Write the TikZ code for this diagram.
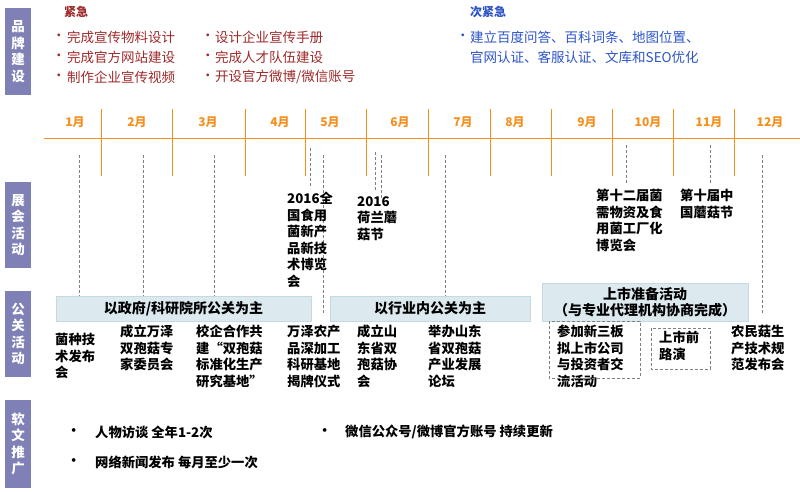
\documentclass[tikz,border=0pt]{standalone}
\usepackage{fontspec}
\setmainfont{Noto Sans CJK SC}
\begin{document}
\begin{tikzpicture}[x=1pt,y=-1pt,
 side/.style={fill=side,text=white,font=\bfseries\fontsize{13.5}{16.5}\selectfont,align=center,inner sep=0pt,minimum width=26pt},
 red/.style={text=redt,font=\fontsize{13.5}{15}\selectfont,anchor=west,inner sep=0pt},
 blu/.style={text=blut,font=\fontsize{13.5}{15}\selectfont,anchor=west,inner sep=0pt},
 mon/.style={text=orng,font=\bfseries\fontsize{12}{13}\selectfont,inner sep=0pt},
 sep/.style={draw=orng,line width=1pt},
 gd/.style={draw=gray,densely dashed,line width=0.6pt},
 band/.style={fill=bandf,draw=bandd,line width=0.8pt,font=\bfseries\fontsize{14}{16.5}\selectfont,align=center,inner sep=0pt},
 txt/.style={font=\bfseries\fontsize{13.3}{16.5}\selectfont,align=left,anchor=north west,inner sep=0pt},
 dbox/.style={draw=gray,densely dashed,line width=0.6pt}
]
\definecolor{side}{HTML}{7F80B6}
\definecolor{redt}{HTML}{9E2A2B}
\definecolor{blut}{HTML}{2F55C8}
\definecolor{orng}{HTML}{F5901E}
\definecolor{bandf}{HTML}{DCE9EF}
\definecolor{bandd}{HTML}{C3DAE3}
\useasboundingbox (0,0) rectangle (800,491);
\fill[white] (0,0) rectangle (800,491);
% side labels
\node[side,minimum height=87pt] (s1) at (18,51.5) {品\\牌\\建\\设};
\node[side,minimum height=86pt] (s2) at (18,225) {展\\会\\活\\动};
\node[side,minimum height=86pt] (s3) at (18,334) {公\\关\\活\\动};
\node[side,minimum height=88pt] (s4) at (18,444) {软\\文\\推\\广};
% header
\node[red,font=\bfseries\fontsize{12}{13}\selectfont] (h1) at (64,12) {紧急};
\foreach \t [count=\i] in {完成宣传物料设计,完成官方网站建设,制作企业宣传视频}{
 \node[red] (a\i) at (67,17+20*\i) {\t};
 \node[red] (ab\i) at (52,17+20*\i) {•};}
\foreach \t [count=\i] in {设计企业宣传手册,完成人才队伍建设,开设官方微博/微信账号}{
 \node[red] (b\i) at (215,17+20*\i) {\t};
 \node[red] (bb\i) at (201,17+20*\i) {•};}
\node[blu,font=\bfseries\fontsize{12}{13}\selectfont] (h2) at (470,12) {次紧急};
\node[blu] (c0) at (456,37) {•};
\node[blu] (c1) at (470,37) {建立百度问答、百科词条、地图位置、};
\node[blu] (c2) at (470,57) {官网认证、客服认证、文库和SEO优化};
% timeline
\coordinate (tl) at (44,138); \coordinate (tr) at (800,138);
\draw[sep] (tl) -- (tr);
\foreach \x in {101,172,245,305,366,428,490,551,612,673,734}{\draw[sep] (\x,109) -- (\x,176);}
\foreach \x/\m in {75/1,137/2,208/3,280/4,330/5,400/6,463/7,515/8,587/9,648/10,709/11,770/12}{\node[mon] (m\m) at (\x,122) {\m 月};}
% dashed verticals
\foreach \x/\a/\b in {79/155/321,143/155/297,214/155/297,310/148/188,323/155/315,375/152/190,381/155/200,445/155/300,626/145/183,710/145/183,762/155/314}{\draw[gd] (\x,\a) -- (\x,\b);}
% bands
\node[band,minimum width=255pt,minimum height=25pt] (p1) at (183.5,308.5) {以政府/科研院所公关为主};
\node[band,minimum width=200pt,minimum height=25pt] (p2) at (430,308.5) {以行业内公关为主};
\node[band,minimum width=206pt,minimum height=38pt] (p3) at (645,302) {上市准备活动\\（与专业代理机构协商完成）};
% exhibitions
\node[txt] (e1) at (287,192) {2016全\\国食用\\菌新产\\品新技\\术博览\\会};
\node[txt] (e2) at (357,196) {2016\\荷兰蘑\\菇节};
\node[txt] (e3) at (596,189) {第十二届菌\\需物资及食\\用菌工厂化\\博览会};
\node[txt] (e4) at (680,189) {第十届中\\国蘑菇节};
% PR
\node[txt] (r1) at (55,333) {菌种技\\术发布\\会};
\node[txt] (r2) at (120,325) {成立万泽\\双孢菇专\\家委员会};
\node[txt] (r3) at (196,325) {校企合作共\\建“双孢菇\\标准化生产\\研究基地”};
\node[txt] (r4) at (287,325) {万泽农产\\品深加工\\科研基地\\揭牌仪式};
\node[txt] (r5) at (357,325) {成立山\\东省双\\孢菇协\\会};
\node[txt] (r6) at (428,325) {举办山东\\省双孢菇\\产业发展\\论坛};
\node[txt] (r7) at (557,325) {参加新三板\\拟上市公司\\与投资者交\\流活动};
\draw[dbox] (549,321) rectangle (640,378);
\node[txt] (r8) at (659,331) {上市前\\路演};
\draw[dbox] (651,328) rectangle (710,369);
\node[txt] (r9) at (731,325) {农民菇生\\产技术规\\范发布会};
% soft
\node[txt,anchor=west] (k0) at (67,432) {•};
\node[txt,anchor=west] (k1) at (95,432) {人物访谈 全年1-2次};
\node[txt,anchor=west] (k2) at (67,462) {•};
\node[txt,anchor=west] (k3) at (95,462) {网络新闻发布 每月至少一次};
\node[txt,anchor=west] (k4) at (318,432) {•};
\node[txt,anchor=west] (k5) at (345,432) {微信公众号/微博官方账号 持续更新};
\end{tikzpicture}
\end{document}
